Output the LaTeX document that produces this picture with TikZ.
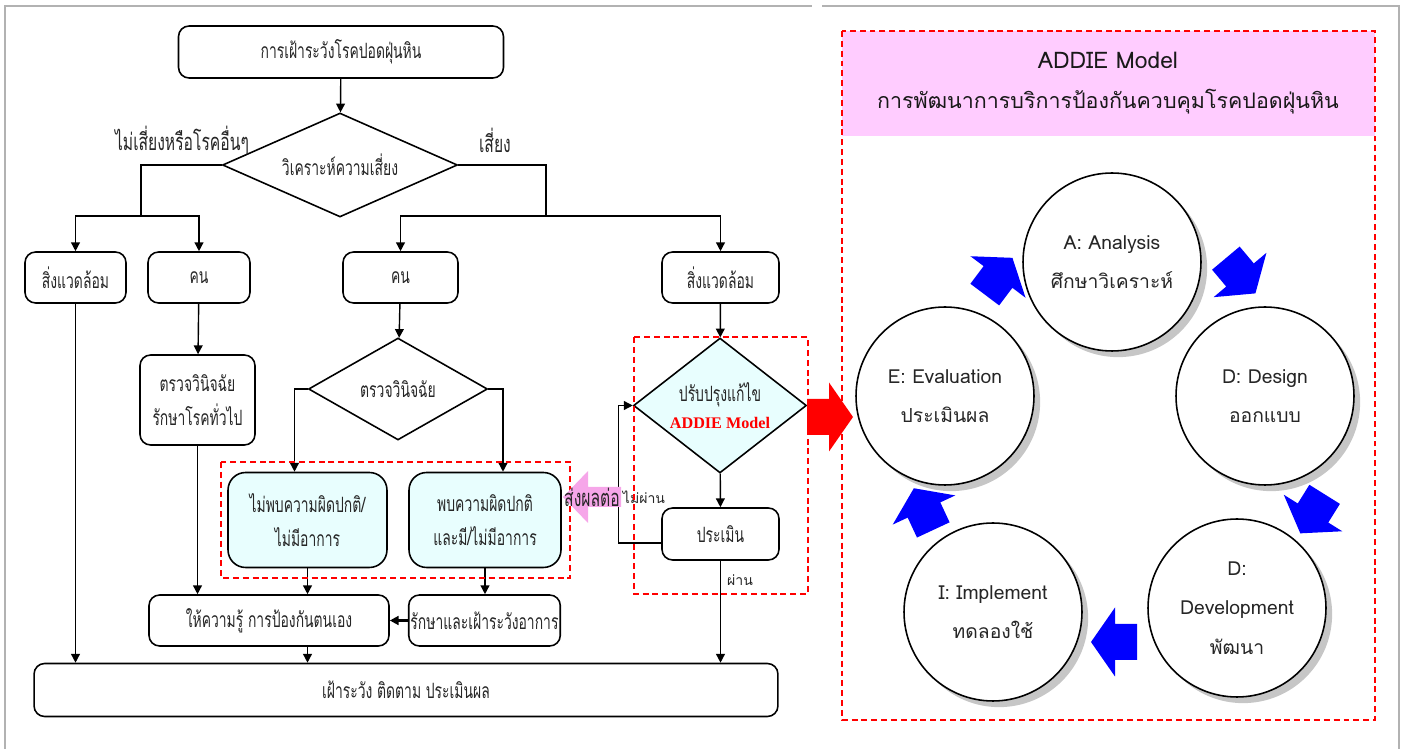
\documentclass[tikz,border=0pt]{standalone}
\usepackage{fontspec}
\usetikzlibrary{arrows.meta, shapes.geometric}
\newfontfamily\thaiL[Script=Thai, FakeStretch=0.66]{Loma}
\newfontfamily\thaiR[Script=Thai]{Loma}
\newfontfamily\serifB{Liberation Serif}
\definecolor{cyanfill}{RGB}{232,254,254}
\definecolor{pinkhead}{RGB}{255,204,255}
\definecolor{pinkarr}{RGB}{246,166,233}
\tikzset{
box/.style={draw, line width=0.9pt, rounded corners=6pt, align=center,
  inner sep=1pt, text=black!85, font=\thaiL\fontsize{12}{19}\selectfont},
okbox/.style={box, fill=cyanfill, rounded corners=10pt},
test/.style={diamond, draw, line width=0.9pt, align=center, inner sep=0pt,
  text=black!85, font=\thaiL\fontsize{12}{15}\selectfont},
lbl/.style={text=black!85, font=\thaiL\fontsize{13.5}{14}\selectfont},
lblsm/.style={text=black!85, font=\thaiR\fontsize{8}{10}\selectfont},
arr/.style={-{Triangle[length=5pt,width=5pt]}, line width=0.8pt},
reddash/.style={red, line width=0.9pt, dash pattern=on 3.4pt off 2.2pt},
phase/.style={circle, draw, line width=0.9pt, fill=white, minimum size=3.56cm,
  align=center, text=black!85, font=\thaiR\fontsize{11}{22.5}\selectfont,
  preaction={fill=gray!45, transform canvas={shift={(3.5pt,-3.5pt)}}}},
blockarr/.pic={
  \fill (-22,-18) -- (0,-18) -- (0,-34.5) -- (24,0) -- (0,34.5) -- (0,18)
        -- (-22,18) -- cycle;
  }
}
\begin{document}
\begin{tikzpicture}[x=0.02cm, y=-0.02cm]
\useasboundingbox (0,0) rectangle (1404,749);
% panel frames
\draw[gray!60, line width=0.6pt] (5,749) -- (5,6) -- (812,6);
\draw[gray!60, line width=0.6pt] (822,6) -- (1399,6) -- (1399,749);

% left flow chart
\node[box, minimum width=6.5cm, minimum height=1.04cm] (top) at (341,52) {การเฝ้าระวังโรคปอดฝุ่นหิน};
\node[test, aspect=2.26, minimum width=4.7cm, minimum height=2.08cm] (risk) at (340,165) {วิเคราะห์ความเสี่ยง};
\node[box, minimum width=2.02cm, minimum height=1.02cm] (envL) at (75.5,277.5) {สิ่งแวดล้อม};
\node[box, minimum width=2.04cm, minimum height=1.02cm] (perL) at (199,277.5) {คน};
\node[box, minimum width=2.3cm, minimum height=1.02cm] (perR) at (400.5,277.5) {คน};
\node[box, minimum width=2.34cm, minimum height=1.02cm] (envR) at (720.5,277.5) {สิ่งแวดล้อม};
\node[box, minimum width=2.3cm, minimum height=1.8cm] (gen) at (197.5,400) {ตรวจวินิจฉัย\\รักษาโรคทั่วไป};
\node[test, aspect=1.75, minimum width=3.58cm, minimum height=2.04cm] (diag) at (398,389) {ตรวจวินิจฉัย};
\node[okbox, minimum width=3.18cm, minimum height=1.9cm] (ok1) at (307.5,520) {ไม่พบความผิดปกติ/\\ไม่มีอาการ};
\node[okbox, minimum width=3.04cm, minimum height=1.9cm] (ok2) at (485,520) {พบความผิดปกติ\\และมี/ไม่มีอาการ};
\node[box, minimum width=4.8cm, minimum height=1.02cm] (edu) at (269,620.5) {ให้ความรู้ การป้องกันตนเอง};
\node[box, minimum width=3.02cm, minimum height=1.02cm] (treat) at (484.5,620.5) {รักษาและเฝ้าระวังอาการ};
\node[box, minimum width=14.88cm, minimum height=1.06cm] (mon) at (406,690) {เฝ้าระวัง ติดตาม ประเมินผล};
\node[test, fill=cyanfill, aspect=1.28, minimum width=3.46cm, minimum height=2.7cm] (adj) at (720,405.5)
  {ปรับปรุงแก้ไข\\{\serifB\bfseries\fontsize{9.2}{15}\selectfont\color{red}ADDIE Model}};
\node[box, minimum width=2.34cm, minimum height=1.04cm] (eval) at (720.5,534) {ประเมิน};

\node[lbl] (lblNo) at (182,140) {ไม่เสี่ยงหรือโรคอื่นๆ};
\node[lbl] (lblYes) at (495,140) {เสี่ยง};
\node[lblsm] (lblFail) at (644,497) {ไม่ผ่าน};
\node[lblsm] (lblPass) at (740,580) {ผ่าน};

\coordinate (lsplit) at (141,216);
\coordinate (rsplit) at (546,216);
\draw[arr] (top) -- (risk);
\draw[line width=0.8pt] (risk.west) -| (lsplit);
\draw[line width=0.8pt] (risk.east) -| (rsplit);
\draw[arr] (lsplit) -| (envL);
\draw[arr] (lsplit) -| (perL);
\draw[arr] (rsplit) -| (perR);
\draw[arr] (rsplit) -| (envR);
\draw[arr] (envL) -- (envL |- mon.north);
\draw[arr] (perL) -- (gen);
\draw[arr] (gen) -- (gen |- edu.north);
\draw[arr] (perR) -- (diag);
\draw[arr] (diag.west) -| ([xshift=-0.26cm]ok1.north);
\draw[arr] (diag.east) -| ([xshift=0.36cm]ok2.north);
\draw[arr] (ok1) -- (ok1 |- edu.north);
\draw[arr] (ok2) -- (ok2 |- treat.north);
\draw[arr, line width=1.6pt] (treat) -- (edu);
\draw[arr] (edu.south -| ok1) -- (ok1 |- mon.north);
\draw[arr] (envR) -- (adj);
\draw[arr] (adj) -- (eval);
\draw[arr] ([yshift=-0.18cm]eval.west) -- ++(-43,0) |- (adj.west);
\draw[arr] (eval) -- (eval |- mon.north);

\draw[reddash] (221,462) rectangle (570,578);
\draw[reddash] (634,337) rectangle (808,594);
% pink arrow
\fill[pinkarr] (563,497) -- (588,471) -- (588,487) -- (621,487) -- (621,507)
  -- (588,507) -- (588,523) -- cycle;
\node[lbl, inner sep=0pt] (send) at (592,497) {ส่งผลต่อ};
\pic[red] at (829,417) {blockarr};

% ADDIE cycle
\fill[pinkhead] (842,31) rectangle (1375,136);
\draw[reddash] (842,31) rectangle (1375,720);
\node[align=center, text=black!90, font=\thaiR\fontsize{12.2}{22.7}\selectfont] (ttl) at (1108,83)
  {{\fontsize{13}{22.7}\selectfont ADDIE Model}\\การพัฒนาการบริการป้องกันควบคุมโรคปอดฝุ่นหิน};
\node[phase] (anA) at (1112,262) {A: Analysis\\ศึกษาวิเคราะห์};
\node[phase] (anD) at (1265,396) {D: Design\\ออกแบบ};
\node[phase] (anDv) at (1237,608) {D:\\Development\\พัฒนา};
\node[phase] (anI) at (993,612) {I: Implement\\ทดลองใช้};
\node[phase] (anE) at (945,396) {E: Evaluation\\ประเมินผล};
\pic[blue, rotate=53] at (998,277) {blockarr};
\pic[blue, rotate=-50] at (1240,275) {blockarr};
\pic[blue, rotate=238] at (1313,513) {blockarr};
\pic[blue, rotate=180] at (1115,642) {blockarr};
\pic[blue, rotate=115] at (924,510) {blockarr};
\end{tikzpicture}
\end{document}
